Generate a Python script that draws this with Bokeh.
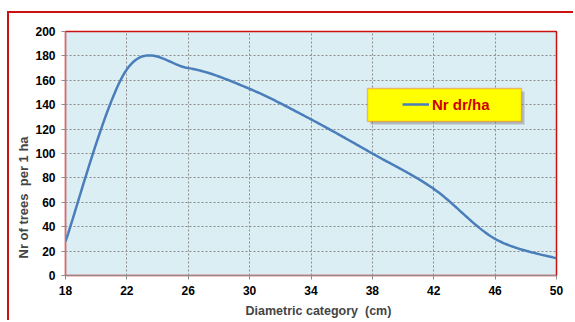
import numpy as np
from bokeh.plotting import figure
from bokeh.models import FixedTicker, BoxAnnotation, Title
from bokeh.embed import file_html
from bokeh.resources import INLINE

# Diameter classes (cm) and number of trees per hectare
diameter = [18, 22, 26, 30, 34, 38, 42, 46, 50]
trees_per_ha = [28, 169, 170, 153, 128, 100, 71, 30, 14]

x_ticks = [18, 22, 26, 30, 34, 38, 42, 46, 50]
y_ticks = [0, 20, 40, 60, 80, 100, 120, 140, 160, 180, 200]

FONT = "Liberation Sans"
BLUE = "#4A7EBB"
RED = "#CC1111"
NBSP = "\u00a0"


def smooth(xs, ys, n=40):
    """Cubic Bezier smoothing through the points (Catmull-Rom style controls)."""
    xs = np.asarray(xs, float)
    ys = np.asarray(ys, float)
    px = np.concatenate([[xs[0]], xs, [xs[-1]]])
    py = np.concatenate([[ys[0]], ys, [ys[-1]]])
    out_x, out_y = [], []
    t = np.linspace(0, 1, n)
    for i in range(1, len(px) - 2):
        p0x, p1x, p2x, p3x = px[i - 1], px[i], px[i + 1], px[i + 2]
        p0y, p1y, p2y, p3y = py[i - 1], py[i], py[i + 1], py[i + 2]
        c1x, c1y = p1x + (p2x - p0x) / 6, p1y + (p2y - p0y) / 6
        c2x, c2y = p2x - (p3x - p1x) / 6, p2y - (p3y - p1y) / 6
        bx = (1 - t) ** 3 * p1x + 3 * (1 - t) ** 2 * t * c1x + 3 * (1 - t) * t ** 2 * c2x + t ** 3 * p2x
        by = (1 - t) ** 3 * p1y + 3 * (1 - t) ** 2 * t * c1y + 3 * (1 - t) * t ** 2 * c2y + t ** 3 * p2y
        out_x.extend(bx if i == 1 else bx[1:])
        out_y.extend(by if i == 1 else by[1:])
    return out_x, out_y


p = figure(
    width=566, height=309,
    x_range=(18, 50), y_range=(0, 200),
    output_backend="svg", toolbar_location=None,
    min_border_left=56, min_border_right=19,
    min_border_top=18, min_border_bottom=47,
    background_fill_color="#DBEEF4",
    border_fill_color="white",
    margin=(11, 0, 0, 7),
    styles={"border-top": f"2px solid {RED}", "border-left": f"2px solid {RED}"},
)
p.outline_line_color = RED
p.outline_line_width = 1.5

# grid
for g in (p.xgrid, p.ygrid):
    g.grid_line_color = "#8C8C8C"
    g.grid_line_dash = "2 2"
    g.grid_line_width = 1

p.xaxis.ticker = FixedTicker(ticks=x_ticks)
p.yaxis.ticker = FixedTicker(ticks=y_ticks)
for ax in (p.xaxis, p.yaxis):
    ax.axis_line_color = "#8C8C8C"
    ax.major_tick_line_color = "#8C8C8C"
    ax.minor_tick_line_color = None
    ax.major_tick_in = 0
    ax.major_tick_out = 4
    ax.major_label_text_font = FONT
    ax.major_label_text_font_style = "bold"
    ax.major_label_text_font_size = "12px"
    ax.major_label_text_color = "black"
p.xaxis.major_label_standoff = 6
p.yaxis.major_label_standoff = 6

# curve
sx, sy = smooth(diameter, trees_per_ha)
p.line(sx, sy, line_color=BLUE, line_width=2.5, legend_label="Nr dr/ha")

# legend box with shadow
p.add_layout(BoxAnnotation(
    left=305, right=459, top=184, bottom=151,
    left_units="screen", right_units="screen", top_units="screen", bottom_units="screen",
    fill_color="#7F7F7F", fill_alpha=0.45, line_alpha=0, level="overlay",
))
p.add_layout(BoxAnnotation(
    left=302, right=456, top=187, bottom=154,
    left_units="screen", right_units="screen", top_units="screen", bottom_units="screen",
    fill_color="#FFFF00", fill_alpha=1, line_color="#E03030", line_width=1.5, level="overlay",
))
lg = p.legend[0]
lg.location = (333, 157)
lg.padding = 4
lg.margin = 0
lg.spacing = 0
lg.border_line_alpha = 0
lg.background_fill_alpha = 0
lg.glyph_width = 27
lg.glyph_height = 20
lg.label_standoff = 3
lg.label_text_font = FONT
lg.label_text_font_style = "bold"
lg.label_text_font_size = "15px"
lg.label_text_color = "#CC0000"
lg.level = "overlay"

# axis titles
p.add_layout(Title(
    text=f"Nr of trees{NBSP} per 1 ha", align="left", offset=17, standoff=4,
    text_font=FONT, text_font_style="bold", text_font_size="13px",
), "left")
p.add_layout(Title(
    text=f"Diametric category{NBSP} (cm)", align="left", offset=180, standoff=8,
    text_font=FONT, text_font_style="bold", text_font_size="12.5px",
), "below")

open("out.html", "w").write(file_html(p, INLINE))
